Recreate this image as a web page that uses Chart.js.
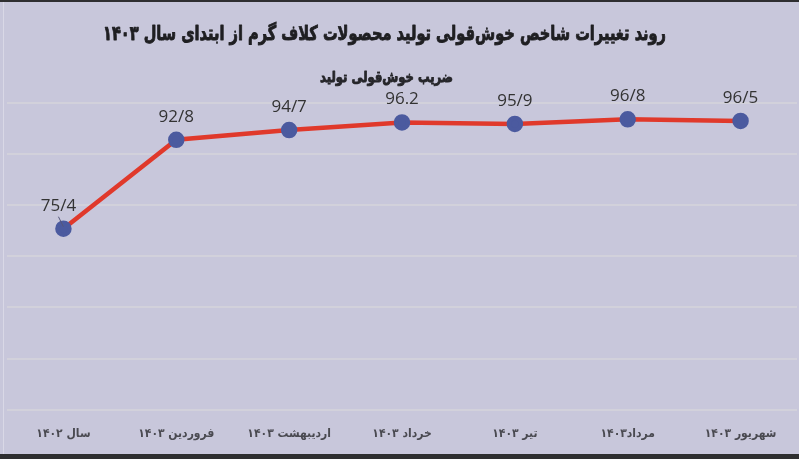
<!DOCTYPE html>
<html>
<head>
<meta charset="utf-8">
<script src="https://cdn.jsdelivr.net/npm/chart.js@4.4.1/dist/chart.umd.min.js"></script>
<style>
  html, body { margin: 0; padding: 0; background: #2e2e30; }
  #wrap {
    position: absolute; left: 0; top: 2px;
    width: 799px; height: 452px;
    background: #c8c7db;
  }
  #wrap::before {
    content: ''; position: absolute; left: 3px; top: 0; bottom: 0;
    width: 1px; background: #d9d8e6;
  }
</style>
</head>
<body>
<div id="wrap"><canvas id="chart"></canvas></div>
<script>
// chart data
const months = ['سال ۱۴۰۲', 'فروردین ۱۴۰۳', 'اردیبهشت ۱۴۰۳', 'خرداد ۱۴۰۳', 'تیر ۱۴۰۳', 'مرداد۱۴۰۳', 'شهریور ۱۴۰۳'];
const ratio = [75.4, 92.8, 94.7, 96.2, 95.9, 96.8, 96.5];
const ratioLabels = ['75/4', '92/8', '94/7', '96.2', '95/9', '96/8', '96/5'];

const titleText = 'روند تغییرات شاخص خوش‌قولی تولید محصولات کلاف گرم از ابتدای سال ۱۴۰۳';
const subtitleText = 'ضریب خوش‌قولی تولید';

// heavy, narrow heading text: squeeze a bold font to the wanted width
function drawHeading(ctx, text, font, color, cx, cy, width) {
    ctx.save();
    ctx.font = font;
    ctx.direction = 'rtl';
    ctx.textAlign = 'center';
    ctx.textBaseline = 'middle';
    const sx = width / ctx.measureText(text).width;
    ctx.translate(cx, cy);
    ctx.scale(sx, 1);
    ctx.fillStyle = color;
    ctx.strokeStyle = color;
    ctx.lineWidth = 0.9;
    ctx.lineJoin = 'round';
    ctx.fillText(text, 0, 0);
    ctx.strokeText(text, 0, 0);
    ctx.restore();
}

const headingPlugin = {
    id: 'heading',
    afterDraw(chart) {
        drawHeading(chart.ctx, titleText, 'bold 20px "DejaVu Sans", sans-serif', '#1f1f22', 384.5, 33, 563);
        drawHeading(chart.ctx, subtitleText, 'bold 15px "DejaVu Sans", sans-serif', '#26262a', 386.5, 76, 133);
    }
};

// draws value text over each point
const pointLabelPlugin = {
    id: 'pointLabels',
    afterDatasetsDraw(chart) {
        const ctx = chart.ctx;
        const meta = chart.getDatasetMeta(0);
        ctx.save();
        ctx.font = '17px "Open Sans", sans-serif';
        ctx.fillStyle = '#333333';
        ctx.textAlign = 'center';
        ctx.textBaseline = 'middle';
        meta.data.forEach((pt, i) => {
            const dx = i === 0 ? -5 : 0;
            ctx.fillText(ratioLabels[i], pt.x + dx, pt.y - 23);
        });
        // small leader line on the first point
        const p0 = meta.data[0];
        ctx.strokeStyle = '#55577a';
        ctx.lineWidth = 1;
        ctx.beginPath();
        ctx.moveTo(p0.x - 5, p0.y - 12);
        ctx.lineTo(p0.x, p0.y - 2);
        ctx.stroke();
        ctx.restore();
    }
};

const ctx = document.getElementById('chart').getContext('2d');
new Chart(ctx, {
    type: 'line',
    data: {
        labels: months,
        datasets: [{
            data: ratio,
            borderColor: '#e0392b',
            borderWidth: 4.5,
            pointBackgroundColor: '#4b5a9f',
            pointBorderColor: '#4b5a9f',
            pointRadius: 6,
            tension: 0
        }]
    },
    options: {
        responsive: true,
        maintainAspectRatio: false,
        animation: false,
        layout: { autoPadding: false, padding: { left: 7, right: 2, top: 101, bottom: 4 } },
        plugins: {
            legend: { display: false },
            tooltip: { enabled: false }
        },
        scales: {
            x: {
                offset: true,
                grid: { display: false },
                border: { display: false },
                afterFit(scale) {
                    scale.paddingLeft = 0;
                    scale.paddingRight = 0;
                },
                ticks: {
                    color: '#4a4a51',
                    padding: 9,
                    font: { family: '"DejaVu Sans Condensed", "DejaVu Sans"', size: 12, weight: 'bold' }
                }
            },
            y: {
                min: 40,
                max: 100,
                afterFit(scale) { scale.width = 0; },
                ticks: { display: false, stepSize: 10 },
                border: { display: false },
                grid: { color: '#d2d1db', lineWidth: 2, drawTicks: false }
            }
        }
    },
    plugins: [pointLabelPlugin, headingPlugin]
});
</script>
</body>
</html>
